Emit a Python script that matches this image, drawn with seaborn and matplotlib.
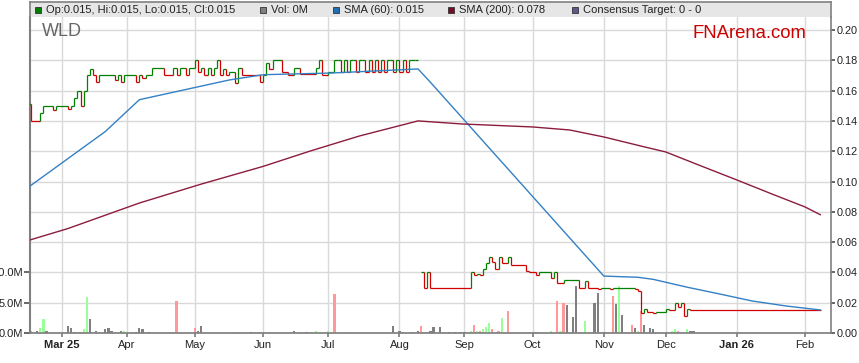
import numpy as np
import pandas as pd
import matplotlib
matplotlib.use("Agg")
import matplotlib.pyplot as plt
from matplotlib.patches import Rectangle
from matplotlib.ticker import FixedLocator
import seaborn as sns

nan = np.nan

# ---- data (x axis = trading days) ----
first_day = "2025-02-14"
last_day = "2026-02-13"

price_dates = [
    "2025-02-14", "2025-02-17", "2025-02-20", "2025-02-21", "2025-02-26", "2025-02-27",
    "2025-03-05", "2025-03-06", "2025-03-07", "2025-03-10", "2025-03-11", "2025-03-12",
    "2025-03-13", "2025-03-14", "2025-03-17", "2025-03-18", "2025-03-19", "2025-03-26",
    "2025-03-27", "2025-03-28", "2025-03-31", "2025-04-04", "2025-04-07", "2025-04-08",
    "2025-04-09", "2025-04-11", "2025-04-17", "2025-04-22", "2025-04-23", "2025-04-24",
    "2025-04-28", "2025-04-29", "2025-05-01", "2025-05-02", "2025-05-05", "2025-05-06",
    "2025-05-07", "2025-05-08", "2025-05-09", "2025-05-12", "2025-05-13", "2025-05-14",
    "2025-05-15", "2025-05-16", "2025-05-20", "2025-05-21", "2025-05-22", "2025-05-30",
    "2025-06-02", "2025-06-03", "2025-06-04", "2025-06-05", "2025-06-10", "2025-06-12",
    "2025-06-16", "2025-06-18", "2025-06-25", "2025-06-26", "2025-06-27", "2025-07-01",
    "2025-07-03", "2025-07-04", "2025-07-07", "2025-07-08", "2025-07-09", "2025-07-10",
    "2025-07-11", "2025-07-14", "2025-07-15", "2025-07-16", "2025-07-17", "2025-07-18",
    "2025-07-21", "2025-07-22", "2025-07-23", "2025-07-24", "2025-07-25", "2025-07-28",
    "2025-07-29", "2025-07-30", "2025-07-31", "2025-08-01", "2025-08-04", "2025-08-05",
    "2025-08-06", "2025-08-08", "2025-08-11", "2025-08-12", "2025-08-13", "2025-08-14",
    "2025-08-15", "2025-09-03", "2025-09-04", "2025-09-05", "2025-09-08", "2025-09-09",
    "2025-09-10", "2025-09-11", "2025-09-12", "2025-09-15", "2025-09-16", "2025-09-17",
    "2025-09-19", "2025-09-22", "2025-09-29", "2025-09-30", "2025-10-02", "2025-10-03",
    "2025-10-09", "2025-10-10", "2025-10-13", "2025-10-15", "2025-10-22", "2025-10-24",
    "2025-10-27", "2025-10-30", "2025-10-31", "2025-11-05", "2025-11-06", "2025-11-17",
    "2025-11-18", "2025-11-19", "2025-11-20", "2025-11-21", "2025-11-25", "2025-11-26",
    "2025-12-01", "2025-12-02", "2025-12-04", "2025-12-05", "2025-12-08", "2025-12-09",
    "2025-12-10", "2025-12-11", "2026-02-09",
]
price_close = [
    0.151, 0.140, 0.145, 0.150, 0.147, 0.150,
    0.148, 0.150, 0.155, 0.160, 0.150, 0.160,
    0.170, 0.174, 0.170, 0.166, 0.170, 0.167,
    0.170, 0.166, 0.170, 0.166, 0.170, 0.168,
    0.170, 0.175, 0.170, 0.175, 0.170, 0.175,
    0.170, 0.175, 0.180, 0.172, 0.175, 0.170,
    0.175, 0.170, 0.175, 0.180, 0.170, 0.174,
    0.170, 0.172, 0.165, 0.175, 0.170, 0.166,
    0.170, 0.178, 0.174, 0.180, 0.172, 0.170,
    0.175, 0.171, 0.175, 0.180, 0.170, 0.172,
    0.180, 0.180, 0.172, 0.180, 0.172, 0.180,
    0.180, 0.172, 0.180, 0.180, 0.172, 0.180,
    0.172, 0.180, 0.172, 0.180, 0.172, 0.180,
    0.180, 0.172, 0.180, 0.172, 0.180, 0.172,
    0.180, 0.180, nan, 0.040, 0.030, 0.040,
    0.030, 0.040, 0.038, 0.039, 0.038, 0.042,
    0.046, 0.050, 0.047, 0.042, 0.050, 0.046,
    0.050, 0.045, 0.041, 0.040, 0.038, 0.040,
    0.036, 0.040, 0.033, 0.035, 0.030, 0.034,
    0.030, 0.029, 0.030, 0.029, 0.030, 0.029,
    0.028, 0.013, 0.016, 0.014, 0.013, 0.014,
    0.016, 0.015, 0.020, 0.017, 0.020, 0.011,
    0.016, 0.015, 0.015,
]

vol_dates = [
    "2025-02-17", "2025-02-19", "2025-02-20", "2025-02-21", "2025-02-24", "2025-03-05",
    "2025-03-06", "2025-03-07", "2025-03-11", "2025-03-12", "2025-03-13", "2025-03-14",
    "2025-03-18", "2025-03-21", "2025-03-24", "2025-03-25", "2025-03-28", "2025-03-31",
    "2025-04-04", "2025-04-07", "2025-04-08", "2025-04-10", "2025-04-23", "2025-05-01",
    "2025-05-02", "2025-05-05", "2025-05-20", "2025-05-27", "2025-05-30", "2025-06-04",
    "2025-06-16", "2025-06-18", "2025-06-20", "2025-06-25", "2025-07-01", "2025-07-03",
    "2025-07-09", "2025-07-30", "2025-08-01", "2025-08-04", "2025-08-07", "2025-08-11",
    "2025-08-12", "2025-08-13", "2025-08-14", "2025-08-15", "2025-08-18", "2025-08-20",
    "2025-08-25", "2025-08-27", "2025-08-29", "2025-09-01", "2025-09-03", "2025-09-04",
    "2025-09-05", "2025-09-08", "2025-09-09", "2025-09-10", "2025-09-11", "2025-09-12",
    "2025-09-16", "2025-09-17", "2025-09-19", "2025-10-01", "2025-10-02", "2025-10-09",
    "2025-10-13", "2025-10-14", "2025-10-15", "2025-10-16", "2025-10-20", "2025-10-21",
    "2025-10-24", "2025-10-29", "2025-10-30", "2025-11-03", "2025-11-06", "2025-11-07",
    "2025-11-10", "2025-11-11", "2025-11-14", "2025-11-17", "2025-11-18", "2025-11-19",
    "2025-11-20", "2025-11-21", "2025-11-24", "2025-11-25", "2025-11-28", "2025-12-01",
    "2025-12-03", "2025-12-04", "2025-12-05", "2025-12-10", "2025-12-11", "2025-12-12",
]
vol_millions = [
    0.25, 0.25, 0.9, 2.25, 0.4, 1.1,
    0.9, 0.2, 0.2, 0.7, 6.0, 2.25,
    0.4, 0.6, 0.75, 0.4, 0.4, 0.4,
    0.2, 0.75, 0.6, 0.2, 5.2, 0.9,
    0.4, 1.2, 0.2, 0.2, 0.2, 0.2,
    0.4, 0.2, 0.2, 0.4, 0.4, 6.5,
    0.2, 1.1, 0.4, 0.2, 0.2, 0.4,
    1.1, 0.2, 0.2, 0.4, 1.05, 1.05,
    0.2, 0.2, 0.2, 0.2, 0.3, 1.4,
    0.3, 0.3, 0.7, 1.0, 1.6, 0.7,
    0.3, 2.4, 3.7, 0.2, 0.2, 0.3,
    5.2, 0.3, 4.9, 4.7, 2.7, 7.7,
    1.9, 4.9, 6.6, 0.2, 6.05, 4.8,
    7.7, 2.9, 1.4, 0.8, 0.3, 3.6,
    1.4, 0.2, 0.8, 0.7, 0.2, 0.2,
    0.3, 0.6, 0.4, 0.6, 0.3, 0.3,
]
vol_move = [
    "down", "flat", "up", "up", "flat", "flat",
    "flat", "flat", "down", "up", "up", "flat",
    "flat", "flat", "flat", "flat", "flat", "up",
    "flat", "flat", "flat", "flat", "down", "down",
    "flat", "flat", "down", "flat", "flat", "up",
    "flat", "down", "flat", "up", "up", "down",
    "up", "flat", "flat", "down", "flat", "flat",
    "down", "up", "down", "flat", "flat", "flat",
    "flat", "flat", "flat", "flat", "up", "down",
    "up", "down", "up", "up", "up", "down",
    "down", "up", "down", "down", "flat", "up",
    "down", "up", "down", "flat", "flat", "flat",
    "up", "flat", "flat", "flat", "down", "flat",
    "up", "flat", "down", "flat", "up", "down",
    "flat", "up", "flat", "flat", "up", "down",
    "up", "up", "down", "up", "flat", "flat",
]

sma60_dates = ["2025-02-14", "2025-03-21", "2025-04-07", "2025-05-16", "2025-06-02",
               "2025-07-02", "2025-08-11", "2025-08-15", "2025-11-03", "2025-11-10",
               "2025-11-18", "2025-11-25", "2025-12-10", "2025-12-25", "2026-01-08",
               "2026-01-23", "2026-02-09"]
sma60_values = [0.096, 0.133, 0.154, 0.167, 0.1705,
                0.1716, 0.1743, 0.1655, 0.0376, 0.0372,
                0.0368, 0.0354, 0.0302, 0.0255, 0.0211,
                0.0178, 0.0152]

sma200_dates = ["2025-02-14", "2025-03-05", "2025-04-07", "2025-05-05", "2025-06-02",
                "2025-06-23", "2025-07-15", "2025-08-11", "2025-08-29", "2025-10-01",
                "2025-10-17", "2025-11-03", "2025-11-19", "2025-12-01", "2025-12-16",
                "2026-01-01", "2026-01-16", "2026-02-02", "2026-02-09"]
sma200_values = [0.061, 0.069, 0.0858, 0.0983, 0.110,
                 0.120, 0.130, 0.140, 0.138, 0.136,
                 0.134, 0.1294, 0.1234, 0.1195, 0.1106,
                 0.101, 0.092, 0.0832, 0.078]

month_labels = ["Mar 25", "Apr", "May", "Jun", "Jul", "Aug", "Sep", "Oct", "Nov", "Dec", "Jan 26", "Feb"]
price_ticks = [0.00, 0.02, 0.04, 0.06, 0.08, 0.10, 0.12, 0.14, 0.16, 0.18, 0.20]
vol_ticks = [0, 5, 10]

legend_labels = ["Op:0.015, Hi:0.015, Lo:0.015, Cl:0.015", "Vol: 0M", "SMA (60): 0.015",
                 "SMA (200): 0.078", "Consensus Target: 0 - 0"]

# ---- style ----
sns.set_theme(style="white")
plt.rcParams["font.family"] = ["Liberation Sans", "DejaVu Sans"]

green = "#008000"
red = "#d00000"
grid_c = "#d9d9d9"
spine_c = "#808080"
text_c = "#222222"
vol_palette = {"up": "#99ff99", "down": "#ff9999", "flat": "#808080"}

days = pd.bdate_range(first_day, last_day)


def pos(dates):
    return days.get_indexer(pd.to_datetime(dates))


W, H = 859, 363
fig = plt.figure(figsize=(W / 100, H / 100), dpi=100)
ax_vol = fig.add_axes([30 / W, 30 / H, 801 / W, 316 / H])
ax = ax_vol.twinx()

# volume bars (left axis, millions)
vol_df = pd.DataFrame({"pos": pos(vol_dates), "vol": vol_millions, "move": vol_move})
sns.barplot(data=vol_df, x="pos", y="vol", hue="move", palette=vol_palette,
            hue_order=["up", "down", "flat"], native_scale=True, dodge=False,
            width=0.7, errorbar=None, legend=False, saturation=1, linewidth=0, ax=ax_vol)

# price as coloured steps
px = pos(price_dates)
pc = np.array(price_close, dtype=float)
prev = np.r_[np.nan, pc[:-1]]
cols = np.where(pc < prev, red, green)
ok_h = ~np.isnan(pc[:-1])
ax.hlines(pc[:-1][ok_h], px[:-1][ok_h], px[1:][ok_h], colors=cols[:-1][ok_h], lw=0.9)
ok_v = ~np.isnan(pc[:-1]) & ~np.isnan(pc[1:])
ax.vlines(px[1:][ok_v], pc[:-1][ok_v], pc[1:][ok_v], colors=cols[1:][ok_v], lw=0.9)

# moving averages
sns.lineplot(x=pos(sma60_dates), y=sma60_values, color="#3480c4", lw=1.0, ax=ax)
sns.lineplot(x=pos(sma200_dates), y=sma200_values, color="#8c1c3c", lw=1.0, ax=ax)

# ---- axes ----
x0 = (30 - 27.94) / 3.096
x1 = (831 - 27.94) / 3.096
ax_vol.set_xlim(x0, x1)
ax.set_xlim(x0, x1)
ax.set_ylim(0, 316 / 1515)
ax_vol.set_ylim(0, 316 / 1515 / 0.004)

first_of_month = days.to_series().groupby(days.to_period("M")).first()
month_pos = pos(first_of_month.values[1:1 + len(month_labels)])
ax_vol.set_xticks(month_pos)
ax_vol.set_xticklabels(month_labels)
for lab in ax_vol.get_xticklabels():
    if " " in lab.get_text():
        lab.set_fontweight("bold")

ax_vol.set_yticks(vol_ticks)
ax_vol.set_yticklabels([f"{v:.1f}M" for v in vol_ticks])
ax_vol.yaxis.set_minor_locator(FixedLocator(np.arange(15, 55, 5)))
ax_vol.grid(True, axis="y", which="both", color=grid_c, lw=1)
ax_vol.grid(True, axis="x", which="major", color=grid_c, lw=1)
ax_vol.set_axisbelow(True)
ax_vol.tick_params(axis="y", which="minor", length=0)
ax_vol.tick_params(axis="y", which="major", left=True, direction="out", length=4,
                   color="#555555", labelsize=8, labelcolor=text_c, pad=1)
ax_vol.tick_params(axis="x", bottom=True, direction="out", length=3, color=spine_c,
                   labelsize=8, labelcolor=text_c, pad=2)

ax.set_yticks(price_ticks)
ax.set_yticklabels([f"{v:.2f}" for v in price_ticks])
ax.tick_params(axis="y", right=True, direction="out", length=3, color="#555555",
               labelsize=7.8, labelcolor=text_c, pad=1)
ax.grid(False)

for a in (ax_vol, ax):
    a.set_xlabel("")
    a.set_ylabel("")
    a.spines["top"].set_visible(False)
ax_vol.spines["right"].set_visible(False)
ax_vol.spines["left"].set_color(spine_c)
ax_vol.spines["left"].set_linewidth(1.5)
ax_vol.spines["bottom"].set_color(spine_c)
ax.spines["left"].set_visible(False)
ax.spines["bottom"].set_visible(False)
ax.spines["right"].set_color(spine_c)
ax.spines["right"].set_linewidth(1.2)

# ---- legend band ----
band = fig.add_axes([30 / W, (H - 17) / H, 801 / W, 15 / H])
band.set_xlim(30, 831)
band.set_ylim(17, 2)
band.set_facecolor("#e6e6e6")
band.set_xticks([])
band.set_yticks([])
for s in ["top", "left", "right"]:
    band.spines[s].set_color(spine_c)
    band.spines[s].set_linewidth(1.2)
band.spines["bottom"].set_visible(False)

legend_colors = [green, "#808080", "#1f6fb2", "#7a0a2a", "#5b5b8f"]
legend_x = [35, 260, 333, 448, 572]
for lab, c, lx in zip(legend_labels, legend_colors, legend_x):
    band.add_patch(Rectangle((lx, 7), 6, 6, facecolor=c, edgecolor="#333333", lw=0.6))
    band.text(lx + 11, 10, lab, fontsize=8, color=text_c, va="center", ha="left")

fig.text(42 / W, 1 - 32 / H, "WLD", fontsize=13, color="#666666", va="center", ha="left")
fig.text(693 / W, 1 - 33 / H, "FNArena.com", fontsize=13.3, color="#cc0000", va="center", ha="left")

fig.savefig("out.png", dpi=100)
plt.close(fig)
